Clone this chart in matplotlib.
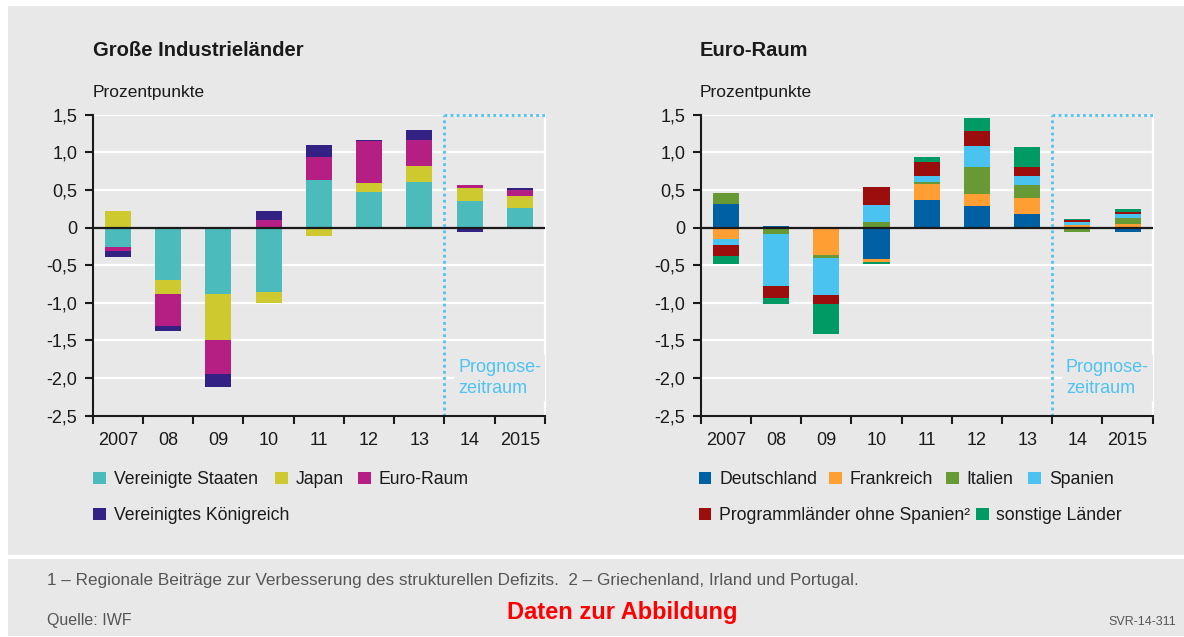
import matplotlib
matplotlib.use('Agg')
import matplotlib.pyplot as plt
from matplotlib.patches import Rectangle
from matplotlib.ticker import FixedLocator
import numpy as np

# ---------------- data ----------------
years = ['2007', '08', '09', '10', '11', '12', '13', '14', '2015']
forecast_first = '14'

# Große Industrieländer (Prozentpunkte)
us = [-0.26, -0.70, -0.88, -0.85, 0.63, 0.47, 0.61, 0.35, 0.26]
japan = [0.22, -0.18, -0.62, -0.15, -0.11, 0.12, 0.21, 0.17, 0.16]
euro = [-0.05, -0.43, -0.45, 0.10, 0.31, 0.56, 0.35, 0.04, 0.08]
uk = [-0.08, -0.07, -0.17, 0.12, 0.16, 0.02, 0.13, -0.06, 0.03]

# Euro-Raum (Prozentpunkte)
de = [0.31, 0.02, -0.02, -0.42, 0.37, 0.29, 0.18, 0.0, -0.06]
fr = [-0.15, -0.02, -0.34, -0.04, 0.21, 0.16, 0.21, 0.035, 0.05]
it = [0.15, -0.06, -0.04, 0.075, 0.03, 0.36, 0.17, -0.06, 0.08]
es = [-0.08, -0.70, -0.49, 0.23, 0.07, 0.27, 0.13, 0.04, 0.05]
prog = [-0.15, -0.16, -0.13, 0.24, 0.19, 0.21, 0.11, 0.03, 0.03]
sonst = [-0.11, -0.07, -0.40, -0.03, 0.07, 0.17, 0.27, 0.01, 0.04]

left_labels = ['Vereinigte Staaten', 'Japan', 'Euro-Raum', 'Vereinigtes Königreich']
left_colors = ['#4BBBBB', '#CDC92F', '#B51E82', '#332283']
right_labels = ['Deutschland', 'Frankreich', 'Italien', 'Spanien',
                'Programmländer ohne Spanien²', 'sonstige Länder']
right_colors = ['#0060A4', '#FF9E33', '#679A34', '#4BC3F0', '#9C0E0E', '#009B65']

yticks = [1.5, 1.0, 0.5, 0, -0.5, -1.0, -1.5, -2.0, -2.5]
ytick_labels = ['1,5', '1,0', '0,5', '0', '-0,5', '-1,0', '-1,5', '-2,0', '-2,5']

# ---------------- style ----------------
W, H = 1184, 637
BG = '#E8E8E8'
TXT = '#1A1A1A'
FC = '#4FC3F0'
plt.rcParams['font.family'] = ['Liberation Sans', 'DejaVu Sans']

fig = plt.figure(figsize=(W / 100, H / 100), dpi=100, facecolor='white')

def fx(px):
    return px / W

def fy(py):
    return 1 - py / H

# gray panels
fig.patches.append(Rectangle((fx(8), fy(555)), fx(W - 8), (555 - 6) / H,
                             transform=fig.transFigure, facecolor=BG, edgecolor='none', zorder=-10))
fig.patches.append(Rectangle((fx(8), fy(636)), fx(W - 8), (636 - 559) / H,
                             transform=fig.transFigure, facecolor=BG, edgecolor='none', zorder=-10))


def draw_panel(ax, series, colors):
    x = np.arange(len(years))
    pos = np.zeros(len(years))
    neg = np.zeros(len(years))
    for vals, c in zip(series, colors):
        v = np.array(vals, dtype=float)
        bottom = np.where(v >= 0, pos, neg)
        ax.bar(x, v, bottom=bottom, width=0.52, color=c, edgecolor='none', zorder=3)
        pos = pos + np.where(v >= 0, v, 0)
        neg = neg + np.where(v < 0, v, 0)
    ax.set_facecolor('none')
    ax.set_xlim(-0.5, len(years) - 0.5)
    ax.set_ylim(-2.5, 1.5)
    ax.set_yticks(yticks)
    ax.set_yticklabels(ytick_labels)
    for yv in yticks:
        if yv != 0:
            ax.axhline(yv, color='white', lw=1.6, zorder=1)
    ax.axhline(0, color=TXT, lw=1.6, zorder=4)
    ax.set_xticks(x)
    ax.set_xticklabels(years)
    ax.xaxis.set_minor_locator(FixedLocator(np.arange(len(years) + 1) - 0.5))
    ax.tick_params(axis='x', which='major', length=0, pad=12, labelsize=13, labelcolor=TXT)
    ax.tick_params(axis='x', which='minor', length=6, width=1.5, color=TXT, direction='out')
    ax.tick_params(axis='y', length=6, width=1.5, color=TXT, pad=5, labelsize=13, labelcolor=TXT)
    ax.spines['top'].set_visible(False)
    ax.spines['right'].set_color('white')
    ax.spines['right'].set_linewidth(1.6)
    ax.spines['left'].set_color(TXT)
    ax.spines['left'].set_linewidth(1.5)
    ax.spines['bottom'].set_color(TXT)
    ax.spines['bottom'].set_linewidth(1.5)
    ax.spines['bottom'].set_zorder(5)
    # forecast frame
    xf = years.index(forecast_first) - 0.5
    ax.plot([xf, xf], [-2.5, 1.5], color=FC, lw=2, ls=(0, (1, 1.2)), zorder=5, clip_on=False)
    ax.plot([xf, len(years) - 0.5], [1.5, 1.5], color=FC, lw=2, ls=(0, (1, 1.2)), zorder=5, clip_on=False)
    ax.text(xf + 0.27, -2.0, 'Prognose-\nzeitraum', color=FC, fontsize=13, ha='left', va='center',
            linespacing=1.3, zorder=6,
            bbox=dict(facecolor=BG, edgecolor='none', pad=3))


ax1 = fig.add_axes([fx(92.7), fy(415.7), fx(545 - 92.7), (415.7 - 114.7) / H])
ax2 = fig.add_axes([fx(700.7), fy(415.7), fx(1152.7 - 700.7), (415.7 - 114.7) / H])
draw_panel(ax1, [us, japan, euro, uk], left_colors)
draw_panel(ax2, [de, fr, it, es, prog, sonst], right_colors)

# titles
fig.text(fx(92.7), fy(50), 'Große Industrieländer', fontsize=14.5, fontweight='bold', color=TXT, va='center')
fig.text(fx(700), fy(50), 'Euro-Raum', fontsize=14.5, fontweight='bold', color=TXT, va='center')
fig.text(fx(92.7), fy(92), 'Prozentpunkte', fontsize=12.5, color=TXT, va='center')
fig.text(fx(700), fy(92), 'Prozentpunkte', fontsize=12.5, color=TXT, va='center')

# legends
def legend_item(xpx, ypx, label, color):
    s = 12.7
    fig.patches.append(Rectangle((fx(xpx), fy(ypx + s / 2)), fx(s), s / H,
                                 transform=fig.transFigure, facecolor=color, edgecolor='none'))
    fig.text(fx(xpx + 20.5), fy(ypx), label, fontsize=12.7, color=TXT, va='center_baseline')

left_pos = [(93, 478), (275, 478), (358.3, 478), (93, 514)]
for (px, py), lab, c in zip(left_pos, left_labels, left_colors):
    legend_item(px, py, lab, c)
right_pos = [(698.7, 478), (829.3, 478), (946, 478), (1028.3, 478), (698.7, 514), (976, 514)]
for (px, py), lab, c in zip(right_pos, right_labels, right_colors):
    legend_item(px, py, lab, c)

# footer
fig.text(fx(47), fy(580), '1 – Regionale Beiträge zur Verbesserung des strukturellen Defizits.  2 – Griechenland, Irland und Portugal.',
         fontsize=12.3, color='#555555', va='center')
fig.text(fx(47), fy(620), 'Quelle: IWF', fontsize=11.5, color='#555555', va='center')
fig.text(fx(622), fy(612), 'Daten zur Abbildung', fontsize=17, color='#FF0000', fontweight='bold',
         va='center', ha='center')
fig.text(fx(1176), fy(622), 'SVR-14-311', fontsize=9, color='#555555', va='center', ha='right')

fig.savefig('out.png', dpi=100, facecolor='white')
